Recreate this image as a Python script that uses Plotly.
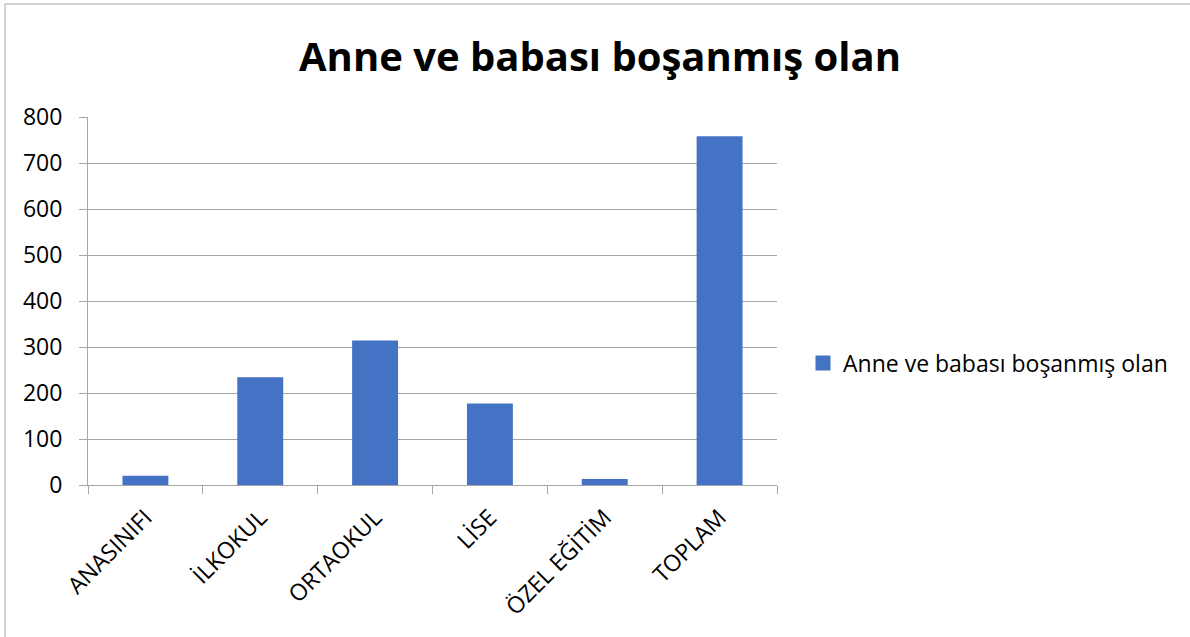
import plotly.graph_objects as go

categories = ["ANASINIFI", "İLKOKUL", "ORTAOKUL", "LİSE", "ÖZEL EĞİTİM", "TOPLAM"]
values = [20, 234, 314, 177, 13, 758]
series_name = "Anne ve babası boşanmış olan"
title_text = "Anne ve babası boşanmış olan"
y_ticks = [0, 100, 200, 300, 400, 500, 600, 700, 800]

W, H = 1190, 637
L, R, T, B = 88, 1190 - 777, 117, 637 - 485
pw, ph = W - L - R, H - T - B
BAR_COLOR = "#4472C4"
GRID = "#a6a6a6"
FONT = "Open Sans"

fig = go.Figure()
fig.add_trace(go.Bar(
    x=categories, y=values, name=series_name,
    marker=dict(color=BAR_COLOR, line=dict(width=0)),
    showlegend=False,
))
# legend-only entry with a larger square swatch
fig.add_trace(go.Scatter(
    x=[None], y=[None], mode="markers", name=series_name,
    marker=dict(symbol="square", size=15, color=BAR_COLOR),
    showlegend=True,
))

def px2paper_x(px):
    return (px - L) / pw

def px2paper_y(py):
    return (H - B - py) / ph

fig.update_layout(
    width=W, height=H,
    margin=dict(l=L, r=R, t=T, b=B, autoexpand=False),
    paper_bgcolor="white", plot_bgcolor="white",
    bargap=0.6,
    font=dict(family=FONT, color="#000000"),
    title=dict(text=title_text, x=600 / W, xanchor="center", xref="container",
               y=1 - 57 / H, yanchor="middle", yref="container",
               font=dict(family=FONT, size=40, color="#000000", weight="bold")),
    xaxis=dict(
        tickangle=-45, tickfont=dict(size=23, family=FONT),
        showline=True, linecolor=GRID, linewidth=1,
        ticks="outside", ticklen=8, tickcolor=GRID, tickson="boundaries",
        ticklabelstandoff=9,
        showgrid=False, fixedrange=True,
    ),
    yaxis=dict(
        range=[0, 800], tickvals=y_ticks, tickfont=dict(size=23, family=FONT),
        showgrid=True, gridcolor=GRID, gridwidth=1,
        showline=True, linecolor=GRID, linewidth=1,
        ticks="outside", ticklen=8, tickcolor=GRID,
        ticklabelstandoff=12,
        zeroline=False, fixedrange=True,
    ),
    legend=dict(x=px2paper_x(803), xanchor="left", y=px2paper_y(363), yanchor="middle",
                font=dict(size=23, family=FONT), bgcolor="rgba(0,0,0,0)",
                itemwidth=30),
    shapes=[dict(type="rect", xref="paper", yref="paper",
                 x0=px2paper_x(5), x1=px2paper_x(1200),
                 y0=px2paper_y(650), y1=px2paper_y(4),
                 line=dict(color=GRID, width=1), fillcolor="rgba(0,0,0,0)", layer="below")],
)

fig.write_html("out.html", config={"displayModeBar": False},
               post_script="document.body.style.margin='0';document.body.style.overflow='hidden';")
